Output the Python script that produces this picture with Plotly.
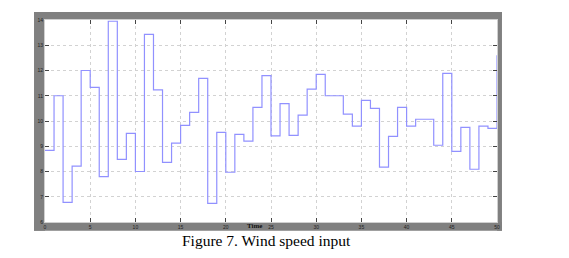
import plotly.graph_objects as go

time = list(range(0, 51))
wind_speed = [8.84, 11.0, 6.78, 8.21, 12.0, 11.33, 7.8, 13.95, 8.48, 9.51,
              8.0, 13.43, 11.23, 8.36, 9.12, 9.83, 10.34, 11.69, 6.74, 9.55,
              7.97, 9.47, 9.2, 10.54, 11.8, 9.41, 10.69, 9.43, 10.23, 11.26,
              11.85, 11.0, 11.0, 10.27, 9.8, 10.82, 10.5, 8.17, 9.39, 10.54,
              9.8, 10.07, 10.07, 9.04, 11.89, 8.8, 9.75, 8.09, 9.8, 9.71, 12.6]
x_ticks = [0, 5, 10, 15, 20, 25, 30, 35, 40, 45, 50]
y_ticks = [6, 7, 8, 9, 10, 11, 12, 13, 14]

fig = go.Figure()
fig.add_trace(go.Scatter(x=time, y=wind_speed, mode="lines", line_shape="hv",
                         line=dict(color="rgb(145,145,255)", width=1.2),
                         showlegend=False, hoverinfo="skip"))

axis_common = dict(showgrid=True, gridcolor="#d2d2d2", griddash="dot", gridwidth=1,
                   zeroline=False, ticks="inside", ticklen=4, tickcolor="#444",
                   tickwidth=1, mirror="ticks", showline=True, linecolor="#d0d0d0",
                   linewidth=1, tickfont=dict(size=5, color="#222", family="Liberation Sans"))

fig.update_xaxes(range=[0, 50], tickvals=x_ticks, **axis_common)
fig.update_yaxes(range=[6, 14], tickvals=y_ticks, **axis_common)

# gray scope frame around the plot area (four strips)
X0, X1, Y0, Y1 = -0.0243, 1.011, -0.043, 1.0396
for (a, b, c, d) in [(X0, 0, Y0, Y1), (1, X1, Y0, Y1), (X0, X1, 1, Y1), (X0, X1, Y0, 0)]:
    fig.add_shape(type="rect", xref="paper", yref="paper", x0=a, x1=b, y0=c, y1=d,
                  fillcolor="#808080", line=dict(width=0), layer="below")

fig.add_annotation(text="<b>Time</b>", xref="paper", yref="paper", x=0.4624, y=-0.018,
                   yanchor="middle", showarrow=False,
                   font=dict(size=7, family="Liberation Serif", color="#111"))
fig.add_annotation(text="Figure 7. Wind speed input", xref="paper", yref="paper",
                   x=0.491, y=-0.094, yanchor="middle", showarrow=False,
                   font=dict(size=15.5, family="Liberation Serif", color="#000"))

fig.update_layout(width=569, height=258, margin=dict(l=45, r=72, t=20, b=36),
                  paper_bgcolor="white", plot_bgcolor="white")

fig.write_html("out.html")
